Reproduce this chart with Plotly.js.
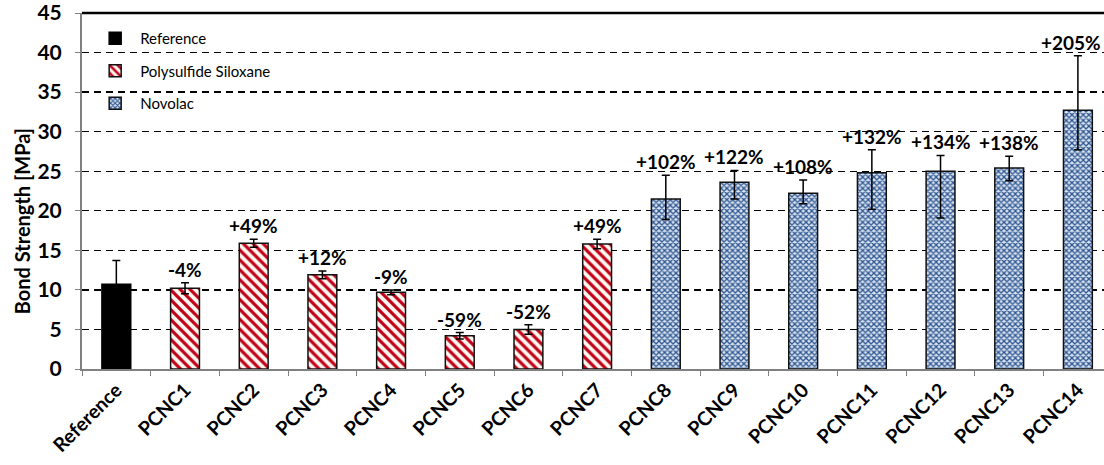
<!DOCTYPE html>
<html>
<head>
<meta charset="utf-8">
<script src="https://cdn.plot.ly/plotly-3.0.1.min.js"></script>
<style>
html,body{margin:0;padding:0;background:#fff;overflow:hidden;}
#chart{width:1104px;height:465px;}
</style>
</head>
<body>
<div id="chart"></div>
<script>
// ---- data ----
const refCats = ["Reference"];
const refVals = [10.7];
const refErrPlus = [3.0];
const refErrMinus = [3.0];

const psCats = ["PCNC1","PCNC2","PCNC3","PCNC4","PCNC5","PCNC6","PCNC7"];
const psVals = [10.2, 15.9, 11.9, 9.7, 4.2, 5.0, 15.8];
const psErrPlus = [0.7, 0.5, 0.5, 0.3, 0.4, 0.6, 0.6];
const psErrMinus = [0.7, 0.5, 0.5, 0.3, 0.4, 0.6, 0.6];

const novCats = ["PCNC8","PCNC9","PCNC10","PCNC11","PCNC12","PCNC13","PCNC14"];
const novVals = [21.5, 23.6, 22.2, 24.8, 25.0, 25.4, 32.7];
const novErrPlus = [3.0, 1.5, 1.7, 2.9, 2.0, 1.5, 6.9];
const novErrMinus = [2.6, 2.1, 1.3, 4.6, 5.9, 1.6, 5.0];

const allCats = refCats.concat(psCats, novCats);
const pctLabels = ["", "-4%","+49%","+12%","-9%","-59%","-52%","+49%",
                   "+102%","+122%","+108%","+132%","+134%","+138%","+205%"];
const yTicks = [0,5,10,15,20,25,30,35,40,45];
const yTitle = "Bond Strength [MPa]";

const FONT = "Lato, 'Open Sans', sans-serif";
const barW = 0.42;
const errStyle = (p, m) => ({type:"data", symmetric:false, array:p, arrayminus:m,
  color:"#000", thickness:1.5, width:4});

const traces = [
  {type:"bar", name:"Reference", x:refCats, y:refVals, width:barW,
   marker:{color:"#000", line:{color:"#000", width:1.5}},
   error_y:errStyle(refErrPlus, refErrMinus), legendgroup:"a"},
  {type:"bar", name:"Polysulfide Siloxane", x:psCats, y:psVals, width:barW,
   marker:{color:"#fff6ee", line:{color:"#111", width:1.5},
     pattern:{shape:"\\", fgcolor:"#c00018", bgcolor:"#fff8f0", size:7, solidity:0.45}},
   error_y:errStyle(psErrPlus, psErrMinus), legendgroup:"b"},
  {type:"bar", name:"Novolac", x:novCats, y:novVals, width:barW,
   marker:{color:"#b5c8e0", line:{color:"#111", width:1.5},
     pattern:{shape:"x", fgcolor:"#2f5590", bgcolor:"#d8e4f2", size:4, solidity:0.55}},
   error_y:errStyle(novErrPlus, novErrMinus), legendgroup:"c"}
];

const allErrPlus = refErrPlus.concat(psErrPlus, novErrPlus);
const allVals = refVals.concat(psVals, novVals);
const annotations = [];
allCats.forEach((c,i) => {
  if (!pctLabels[i]) return;
  annotations.push({x:c, y:allVals[i] + allErrPlus[i], xref:"x", yref:"y", text:pctLabels[i],
    showarrow:false, yanchor:"bottom", yshift:0, xshift:(i === allCats.length - 1 ? -7 : 0),
    font:{family:FONT, size:19, color:"#000", weight:"bold"}});
});
// y-axis title (as annotation so it can sit where the reference puts it)
annotations.push({xref:"paper", yref:"paper", x:0, y:0.415, xshift:-60, text:yTitle,
  textangle:-90, showarrow:false, xanchor:"center", yanchor:"middle",
  font:{family:FONT, size:20, color:"#000", weight:"bold"}});

const layout = {
  width:1104, height:465,
  margin:{l:82, r:0, t:13, b:96},
  paper_bgcolor:"#fff", plot_bgcolor:"#fff",
  barmode:"overlay", showlegend:true,
  font:{family:FONT, color:"#000"},
  xaxis:{type:"category", categoryorder:"array", categoryarray:allCats,
    range:[-0.5, 14.38], showgrid:false, zeroline:false,
    showline:true, linecolor:"#808080", linewidth:2,
    ticks:"outside", tickson:"boundaries", ticklen:5, tickcolor:"#808080", tickwidth:1,
    tickangle:-45, tickfont:{family:FONT, size:19.5, color:"#000", weight:"bold"}},
  yaxis:{range:[0,45], tickvals:yTicks, ticktext:yTicks.map(String),
    showgrid:true, gridcolor:"#000", gridwidth:1.3, griddash:"7px,5px",
    zeroline:false, showline:true, linecolor:"#808080", linewidth:2,
    ticks:"outside", ticklen:5, tickcolor:"#808080", tickwidth:1,
    ticklabelstandoff:9, ticklabeloverflow:"allow",
    tickfont:{family:FONT, size:21, color:"#000", weight:"bold"}},
  legend:{x:0.008, y:0.975, xanchor:"left", yanchor:"top",
    bgcolor:"rgba(0,0,0,0)", borderwidth:0, tracegroupgap:10,
    font:{family:FONT, size:15, color:"#000"}, itemwidth:40},
  shapes:[
    {type:"line", xref:"paper", yref:"paper", x0:0, x1:1, y0:1, y1:1,
     line:{color:"#000", width:2.5}},
    {type:"rect", xref:"paper", yref:"paper", x0:0.044, x1:0.21, y0:0.73, y1:0.985,
     fillcolor:"#fff", line:{width:0}, layer:"between"}
  ],
  annotations:annotations
};

Plotly.newPlot("chart", traces, layout, {displayModeBar:false, staticPlot:true});
</script>
</body>
</html>
